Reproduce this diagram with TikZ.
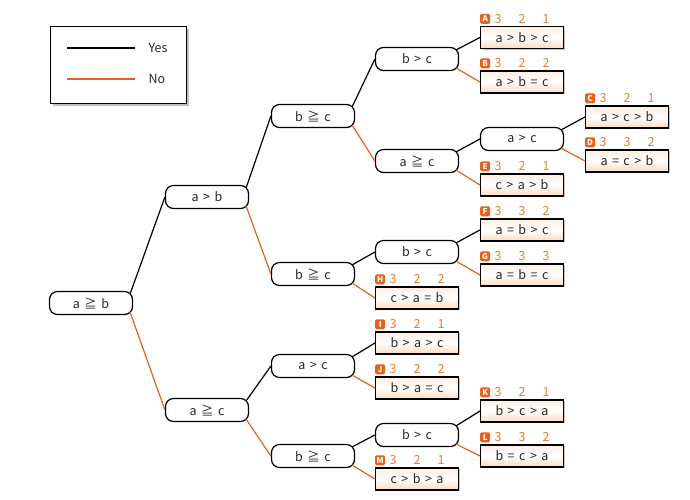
\documentclass[tikz,border=0pt]{standalone}
\usepackage{fontspec}
\setmainfont[WordSpace=1.6]{Noto Sans CJK JP}
\usetikzlibrary{positioning,shadows}
\definecolor{noorange}{RGB}{232,96,28}
\definecolor{numorange}{RGB}{238,122,52}
\definecolor{peach}{RGB}{252,218,190}
\begin{document}
\begin{tikzpicture}[x=1pt,y=-1pt,
  cond/.style={draw,line width=1.2pt,fill=white,rounded corners=8pt,minimum width=83pt,minimum height=23pt,inner sep=0pt,font=\fontsize{12.5}{13}\selectfont,text=black!85},
  leaf/.style={draw,line width=1.1pt,top color=peach!45,bottom color=peach,middle color=white,minimum width=83pt,minimum height=22pt,inner sep=0pt,font=\fontsize{12.5}{13}\selectfont,text=black!85,drop shadow={shadow xshift=1pt,shadow yshift=-1pt,opacity=0.45}},
  score/.style={inner sep=0pt,text height=9pt,text depth=0pt,text=numorange,font=\fontsize{12.5}{13}\selectfont},
  tag/.style={fill=noorange,text=white,rounded corners=1.5pt,inner sep=0pt,minimum size=10pt,font=\bfseries\fontsize{8}{8}\selectfont},
  yes/.style={line width=1.2pt,black},
  no/.style={line width=1.2pt,noorange}]
  \useasboundingbox (0,0) rectangle (690,499);
  % legend
  \node[draw,line width=0.8pt,fill=white,minimum width=136pt,minimum height=77pt,drop shadow={shadow xshift=3pt,shadow yshift=-3pt,opacity=0.5}] (legend) at (118,64.5) {};
  \coordinate (ya) at (67,48);
  \coordinate (yb) at (135,48);
  \coordinate (na) at (67,79);
  \coordinate (nb) at (135,79);
  \draw[yes] (ya) -- (yb);
  \draw[no] (na) -- (nb);
  \node[anchor=west,font=\fontsize{12.5}{13}\selectfont,text=black!85] (tyes) at (145,48) {Yes};
  \node[anchor=west,font=\fontsize{12.5}{13}\selectfont,text=black!85] (tno) at (145,79) {No};

  % conditions
  \node[cond] (root) at (91,303) {a ≧ b};
  \node[cond] (n1) at (207,197) {a > b};
  \node[cond] (n2) at (207,410) {a ≧ c};
  \node[cond] (n3) at (313,116) {b ≧ c};
  \node[cond] (n4) at (313,274) {b ≧ c};
  \node[cond] (n9) at (313,366) {a > c};
  \node[cond] (n10) at (313,456) {b ≧ c};
  \node[cond] (n5) at (417,59) {b > c};
  \node[cond] (n6) at (417,161) {a ≧ c};
  \node[cond] (n8) at (417,252) {b > c};
  \node[cond] (n11) at (417,435) {b > c};
  \node[cond] (n7) at (522,139) {a > c};

  % results
  \node[leaf] (lA) at (522,37.5) {a > b > c};
  \node[leaf] (lB) at (522,82) {a > b = c};
  \node[leaf] (lC) at (627,117) {a > c > b};
  \node[leaf] (lD) at (627,161) {a = c > b};
  \node[leaf] (lE) at (522,185) {c > a > b};
  \node[leaf] (lF) at (522,230) {a = b > c};
  \node[leaf] (lG) at (522,275) {a = b = c};
  \node[leaf] (lH) at (417,298) {c > a = b};
  \node[leaf] (lI) at (417,343) {b > a > c};
  \node[leaf] (lJ) at (417,388) {b > a = c};
  \node[leaf] (lK) at (522,411) {b > c > a};
  \node[leaf] (lL) at (522,456) {b = c > a};
  \node[leaf] (lM) at (417,479) {c > b > a};

  % scores
  \node[score,above=2.5pt of lA] (sA) {\makebox[24pt]{3}\makebox[24pt]{2}\makebox[24pt]{1}};
  \node[tag,anchor=west] (tA) at (lA.west |- sA) {A};
  \node[score,above=2.5pt of lB] (sB) {\makebox[24pt]{3}\makebox[24pt]{2}\makebox[24pt]{2}};
  \node[tag,anchor=west] (tB) at (lB.west |- sB) {B};
  \node[score,above=2.5pt of lC] (sC) {\makebox[24pt]{3}\makebox[24pt]{2}\makebox[24pt]{1}};
  \node[tag,anchor=west] (tC) at (lC.west |- sC) {C};
  \node[score,above=2.5pt of lD] (sD) {\makebox[24pt]{3}\makebox[24pt]{3}\makebox[24pt]{2}};
  \node[tag,anchor=west] (tD) at (lD.west |- sD) {D};
  \node[score,above=2.5pt of lE] (sE) {\makebox[24pt]{3}\makebox[24pt]{2}\makebox[24pt]{1}};
  \node[tag,anchor=west] (tE) at (lE.west |- sE) {E};
  \node[score,above=2.5pt of lF] (sF) {\makebox[24pt]{3}\makebox[24pt]{3}\makebox[24pt]{2}};
  \node[tag,anchor=west] (tF) at (lF.west |- sF) {F};
  \node[score,above=2.5pt of lG] (sG) {\makebox[24pt]{3}\makebox[24pt]{3}\makebox[24pt]{3}};
  \node[tag,anchor=west] (tG) at (lG.west |- sG) {G};
  \node[score,above=2.5pt of lH] (sH) {\makebox[24pt]{3}\makebox[24pt]{2}\makebox[24pt]{2}};
  \node[tag,anchor=west] (tH) at (lH.west |- sH) {H};
  \node[score,above=2.5pt of lI] (sI) {\makebox[24pt]{3}\makebox[24pt]{2}\makebox[24pt]{1}};
  \node[tag,anchor=west] (tI) at (lI.west |- sI) {I};
  \node[score,above=2.5pt of lJ] (sJ) {\makebox[24pt]{3}\makebox[24pt]{2}\makebox[24pt]{2}};
  \node[tag,anchor=west] (tJ) at (lJ.west |- sJ) {J};
  \node[score,above=2.5pt of lK] (sK) {\makebox[24pt]{3}\makebox[24pt]{2}\makebox[24pt]{1}};
  \node[tag,anchor=west] (tK) at (lK.west |- sK) {K};
  \node[score,above=2.5pt of lL] (sL) {\makebox[24pt]{3}\makebox[24pt]{3}\makebox[24pt]{2}};
  \node[tag,anchor=west] (tL) at (lL.west |- sL) {L};
  \node[score,above=2.5pt of lM] (sM) {\makebox[24pt]{3}\makebox[24pt]{2}\makebox[24pt]{1}};
  \node[tag,anchor=west] (tM) at (lM.west |- sM) {M};

  % branches
  \draw[yes] ([xshift=-3pt,yshift=-3pt]root.north east) -- (n1.west);
  \draw[no] ([xshift=-3pt,yshift=3pt]root.south east) -- (n2.west);
  \draw[yes] ([xshift=-3pt,yshift=-3pt]n1.north east) -- (n3.west);
  \draw[no] ([xshift=-3pt,yshift=3pt]n1.south east) -- (n4.west);
  \draw[yes] ([xshift=-3pt,yshift=-3pt]n3.north east) -- (n5.west);
  \draw[no] ([xshift=-3pt,yshift=3pt]n3.south east) -- (n6.west);
  \draw[yes] ([xshift=-3pt,yshift=-3pt]n5.north east) -- (lA.west);
  \draw[no] ([xshift=-3pt,yshift=3pt]n5.south east) -- (lB.west);
  \draw[yes] ([xshift=-3pt,yshift=-3pt]n6.north east) -- (n7.west);
  \draw[no] ([xshift=-3pt,yshift=3pt]n6.south east) -- (lE.west);
  \draw[yes] ([xshift=-3pt,yshift=-3pt]n7.north east) -- (lC.west);
  \draw[no] ([xshift=-3pt,yshift=3pt]n7.south east) -- (lD.west);
  \draw[yes] ([xshift=-3pt,yshift=-3pt]n4.north east) -- (n8.west);
  \draw[no] ([xshift=-3pt,yshift=3pt]n4.south east) -- (lH.west);
  \draw[yes] ([xshift=-3pt,yshift=-3pt]n8.north east) -- (lF.west);
  \draw[no] ([xshift=-3pt,yshift=3pt]n8.south east) -- (lG.west);
  \draw[yes] ([xshift=-3pt,yshift=-3pt]n2.north east) -- (n9.west);
  \draw[no] ([xshift=-3pt,yshift=3pt]n2.south east) -- (n10.west);
  \draw[yes] ([xshift=-3pt,yshift=-3pt]n9.north east) -- (lI.west);
  \draw[no] ([xshift=-3pt,yshift=3pt]n9.south east) -- (lJ.west);
  \draw[yes] ([xshift=-3pt,yshift=-3pt]n10.north east) -- (n11.west);
  \draw[no] ([xshift=-3pt,yshift=3pt]n10.south east) -- (lM.west);
  \draw[yes] ([xshift=-3pt,yshift=-3pt]n11.north east) -- (lK.west);
  \draw[no] ([xshift=-3pt,yshift=3pt]n11.south east) -- (lL.west);
\end{tikzpicture}
\end{document}
